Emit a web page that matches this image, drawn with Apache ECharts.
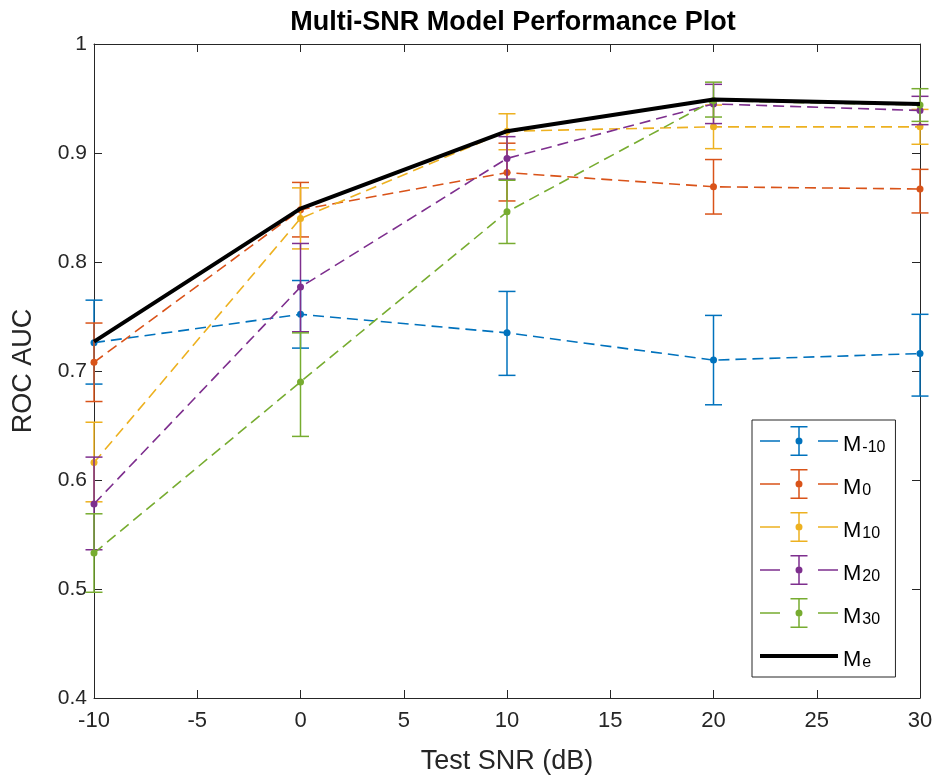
<!DOCTYPE html>
<html>
<head>
<meta charset="utf-8">
<script src="https://cdn.jsdelivr.net/npm/echarts@6/dist/echarts.min.js"></script>
<style>html,body{margin:0;padding:0;background:#fff;}#c{width:938px;height:783px;}</style>
</head>
<body>
<div id="c"></div>
<script>
// ---- data ----
const snr = [-10, 0, 10, 20, 30];
const seriesNames = ['M-10', 'M0', 'M10', 'M20', 'M30'];
const meanM10n = [0.726, 0.752, 0.735, 0.710, 0.716];
const lowM10n  = [0.688, 0.721, 0.696, 0.669, 0.677];
const highM10n = [0.765, 0.783, 0.773, 0.751, 0.752];
const meanM0 = [0.708, 0.848, 0.882, 0.869, 0.867];
const lowM0  = [0.672, 0.823, 0.856, 0.844, 0.845];
const highM0 = [0.744, 0.873, 0.909, 0.894, 0.885];
const meanM10 = [0.616, 0.840, 0.920, 0.924, 0.924];
const lowM10  = [0.580, 0.812, 0.903, 0.904, 0.908];
const highM10 = [0.653, 0.868, 0.936, 0.944, 0.940];
const meanM20 = [0.578, 0.777, 0.895, 0.945, 0.939];
const lowM20  = [0.536, 0.736, 0.876, 0.927, 0.926];
const highM20 = [0.621, 0.817, 0.915, 0.963, 0.952];
const meanM30 = [0.533, 0.690, 0.846, 0.948, 0.944];
const lowM30  = [0.497, 0.640, 0.817, 0.933, 0.929];
const highM30 = [0.569, 0.735, 0.875, 0.965, 0.959];
const meanMe = [0.727, 0.849, 0.920, 0.949, 0.945];

const means = [meanM10n, meanM0, meanM10, meanM20, meanM30];
const lows = [lowM10n, lowM0, lowM10, lowM20, lowM30];
const highs = [highM10n, highM0, highM10, highM20, highM30];
const colors = ['#0072BD', '#D95319', '#EDB120', '#7E2F8E', '#77AC30'];

const FONT = 'Liberation Sans, Arial, sans-serif';
const AX = '#262626';

const legendIconPath = 'path://M0 14.25h20v1.5h-20z M58 14.25h20v1.5h-20z M38.25 0h1.5v30h-1.5z M30.5 0h17v1.5h-17z M30.5 28.5h17v1.5h-17z M35.5 15a3.5 3.5 0 1 1 7 0a3.5 3.5 0 1 1 -7 0z';
const legendMePath = 'path://M0 0h0.01v0.01h-0.01z M77.99 29.99h0.01v0.01h-0.01z M0 13h78v4h-78z';

const series = [];
seriesNames.forEach((name, i) => {
  series.push({
    type: 'custom',
    name: name + '_err',
    xAxisIndex: 0, yAxisIndex: 0,
    data: snr.map((x, k) => [x, lows[i][k], highs[i][k]]),
    encode: { x: 0, y: [1, 2] },
    clip: false,
    z: 2 + i * 2,
    renderItem: function (params, api) {
      const x = api.value(0);
      const pLo = api.coord([x, api.value(1)]);
      const pHi = api.coord([x, api.value(2)]);
      const hw = 8.5;
      const st = { stroke: colors[i], lineWidth: 1.5, fill: null };
      return {
        type: 'group',
        children: [
          { type: 'line', shape: { x1: pLo[0], y1: pLo[1], x2: pHi[0], y2: pHi[1] }, style: st },
          { type: 'line', shape: { x1: pHi[0] - hw, y1: pHi[1], x2: pHi[0] + hw, y2: pHi[1] }, style: st },
          { type: 'line', shape: { x1: pLo[0] - hw, y1: pLo[1], x2: pLo[0] + hw, y2: pLo[1] }, style: st }
        ]
      };
    }
  });
  series.push({
    type: 'line',
    name: name,
    xAxisIndex: 0, yAxisIndex: 0,
    data: snr.map((x, k) => [x, means[i][k]]),
    z: 3 + i * 2,
    color: colors[i],
    symbol: 'circle',
    symbolSize: 7,
    lineStyle: { color: colors[i], width: 1.6, type: [11, 6] },
    itemStyle: { color: colors[i] }
  });
});
series.push({
  type: 'line',
  name: 'Me',
  xAxisIndex: 0, yAxisIndex: 0,
  data: snr.map((x, k) => [x, meanMe[k]]),
  z: 20,
  color: '#000',
  symbol: 'none',
  lineStyle: { color: '#000', width: 4 },
  itemStyle: { color: '#000' }
});

const baseX = {
  type: 'value', min: -10, max: 30, interval: 5,
  axisLine: { show: true, onZero: false, lineStyle: { color: AX, width: 1 } },
  axisTick: { show: true, inside: true, length: 8, lineStyle: { color: AX } },
  splitLine: { show: false }
};
const baseY = {
  type: 'value', min: 0.4, max: 1, interval: 0.1,
  axisLine: { show: true, onZero: false, lineStyle: { color: AX, width: 1 } },
  axisTick: { show: true, inside: true, length: 8, lineStyle: { color: AX } },
  splitLine: { show: false }
};

const option = {
  animation: false,
  backgroundColor: '#fff',
  title: {
    text: 'Multi-SNR Model Performance Plot',
    left: 508, top: 4, textAlign: 'center',
    textStyle: { fontFamily: FONT, fontSize: 27, fontWeight: 'bold', color: '#000' }
  },
  grid: { left: 94, right: 18, top: 44, bottom: 85, containLabel: false },
  xAxis: [
    Object.assign({}, baseX, {
      position: 'bottom',
      name: 'Test SNR (dB)', nameLocation: 'middle', nameGap: 50,
      nameTextStyle: { fontFamily: FONT, fontSize: 27, color: AX },
      axisLabel: { show: true, margin: 12, fontFamily: FONT, fontSize: 22, color: AX }
    }),
    Object.assign({}, baseX, { position: 'top', axisLabel: { show: false } })
  ],
  yAxis: [
    Object.assign({}, baseY, {
      position: 'left',
      name: 'ROC AUC', nameLocation: 'middle', nameGap: 57,
      nameTextStyle: { fontFamily: FONT, fontSize: 27, color: AX },
      axisLabel: { show: true, margin: 7, fontFamily: FONT, fontSize: 21, color: AX }
    }),
    Object.assign({}, baseY, { position: 'right', axisLabel: { show: false } })
  ],
  legend: {
    orient: 'vertical',
    left: 752, top: 420,
    backgroundColor: '#fff',
    borderColor: AX, borderWidth: 1,
    padding: [6, 10, 6, 8],
    itemGap: 13,
    itemWidth: 78, itemHeight: 30,
    data: seriesNames.map(n => ({ name: n, icon: legendIconPath })).concat([{ name: 'Me', icon: legendMePath }]),
    formatter: function (name) { return '{m|M}{s|' + name.slice(1) + '}'; },
    textStyle: {
      fontFamily: FONT, color: '#000',
      rich: {
        m: { fontFamily: FONT, fontSize: 22, color: '#000', verticalAlign: 'bottom' },
        s: { fontFamily: FONT, fontSize: 16, color: '#000', padding: [14, 0, 0, 1], verticalAlign: 'bottom' }
      }
    },
    selectedMode: false
  },
  series: series
};

const chart = echarts.init(document.getElementById('c'), null, { renderer: 'canvas' });
chart.setOption(option);
</script>
</body>
</html>
